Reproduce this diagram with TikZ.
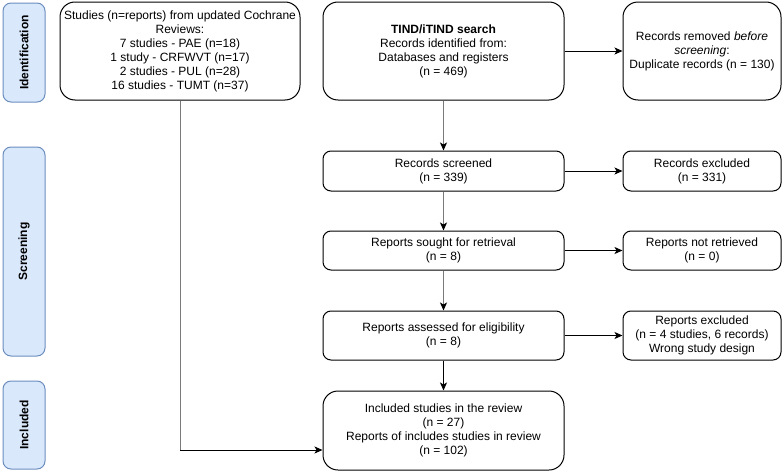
\documentclass[tikz,border=0pt]{standalone}
\usepackage{fontspec}
\setmainfont{Liberation Sans}
\usetikzlibrary{arrows.meta}
\definecolor{phasefill}{HTML}{DAE8FC}
\definecolor{phaseline}{HTML}{6C8EBF}
\definecolor{vline}{HTML}{7A7A7A}
\begin{document}
\begin{tikzpicture}[x=1pt,y=-1pt,
  every node/.style={font=\fontsize{12}{14}\selectfont, align=center, inner sep=2pt},
  phase/.style={draw=phaseline, fill=phasefill, line width=1pt, rounded corners=8pt, rotate=90, minimum height=42pt, font=\fontsize{12}{14}\selectfont\bfseries},
  bigbox/.style={draw, line width=1pt, rounded corners=15pt, minimum height=98pt},
  smallbox/.style={draw, line width=1pt, rounded corners=8pt},
  arr/.style={line width=1pt, -{Stealth[length=8pt,width=7pt,inset=2pt,color=black]}},
  garr/.style={arr, draw=vline}
]
\useasboundingbox (0,0) rectangle (782,471);
% phases
\node[phase, minimum width=99pt] (idph) at (24,52.5) {Identification};
\node[phase, minimum width=209pt] (scph) at (24,251.5) {Screening};
\node[phase, minimum width=88pt] (inph) at (24,425) {Included};
% boxes
\node[bigbox, minimum width=240pt] (coch) at (180,51) {Studies (n=reports) from updated Cochrane\\Reviews:\\7 studies - PAE (n=18)\\1 study - CRFWVT (n=17)\\2 studies - PUL (n=28)\\16 studies - TUMT (n=37)};
\node[bigbox, minimum width=241pt] (tind) at (443.5,51) {\textbf{TIND/iTIND search}\\Records identified from:\\Databases and registers\\(n = 469)};
\node[bigbox, minimum width=158pt] (removed) at (702,51) {Records removed \textit{before}\\\textit{screening}:\\Duplicate records (n = 130)};
\node[smallbox, minimum width=241pt, minimum height=40pt] (screened) at (443.5,171) {Records screened\\(n = 339)};
\node[smallbox, minimum width=158pt, minimum height=40pt] (excl) at (702,171) {Records excluded\\(n = 331)};
\node[smallbox, minimum width=241pt, minimum height=39pt] (sought) at (443.5,250.5) {Reports sought for retrieval\\(n = 8)};
\node[smallbox, minimum width=158pt, minimum height=39pt] (notret) at (702,250.5) {Reports not retrieved\\(n = 0)};
\node[smallbox, minimum width=241pt, minimum height=49pt] (assessed) at (443.5,335.5) {Reports assessed for eligibility\\(n = 8)};
\node[smallbox, minimum width=158pt, minimum height=49pt] (rexcl) at (702,335.5) {Reports excluded\\(n = 4 studies, 6 records)\\Wrong study design};
\node[bigbox, rounded corners=15pt, minimum width=241pt, minimum height=79pt] (incl) at (443.5,430.5) {Included studies in the review\\(n = 27)\\Reports of includes studies in review\\(n = 102)};
% connectors
\draw[arr] (tind) -- (removed);
\draw[arr] (screened) -- (excl);
\draw[arr] (sought) -- (notret);
\draw[arr] (assessed) -- (rexcl);
\draw[garr] (tind) -- (screened);
\draw[garr] (screened) -- (sought);
\draw[garr] (sought) -- (assessed);
\draw[arr] (assessed) -- (incl);
\coordinate (bend) at (180,450);
\draw[line width=1pt, draw=vline] (coch.south) -- (bend);
\draw[arr] (bend) -- (incl.west |- bend);
\end{tikzpicture}
\end{document}
